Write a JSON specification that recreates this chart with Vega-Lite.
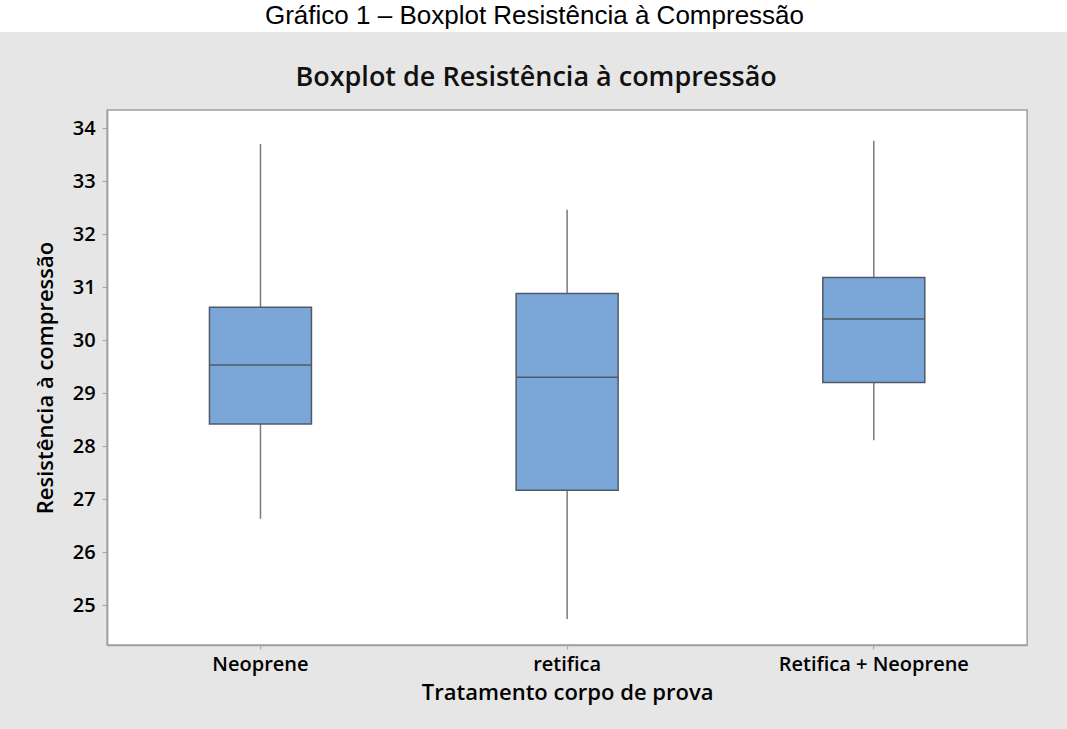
{
  "$schema": "https://vega.github.io/schema/vega-lite/v6.json",
  "background": "#e6e6e6",
  "padding": {"left": 0, "right": 0, "top": 0, "bottom": 26},
  "spacing": 31,
  "center": true,
  "config": {"font": "Open Sans"},
  "vconcat": [
    {
      "width": 1135,
      "height": 32,
      "view": {"fill": "white", "stroke": null},
      "data": {"values": [{"t": "Gráfico 1 – Boxplot Resistência à Compressão"}]},
      "mark": {"type": "text", "font": "Liberation Sans", "fontSize": 26, "color": "black", "dx": -33},
      "encoding": {"text": {"field": "t"}}
    },
    {
      "width": 920,
      "height": 535,
      "view": {"fill": "white", "stroke": "#a0a0a0", "strokeWidth": 1.5},
      "title": {"text": "Boxplot de Resistência à compressão", "font": "Open Sans", "fontSize": 27, "fontWeight": 600, "color": "#111111", "anchor": "middle", "frame": "group", "dx": -31, "offset": 18},
      "data": {"values": [
        {"trat": "Neoprene", "lower": 26.63, "q1": 28.42, "median": 29.53, "q3": 30.62, "upper": 33.70},
        {"trat": "retifica", "lower": 24.74, "q1": 27.17, "median": 29.30, "q3": 30.88, "upper": 32.46},
        {"trat": "Retifica + Neoprene", "lower": 28.11, "q1": 29.20, "median": 30.40, "q3": 31.18, "upper": 33.76}
      ]},
      "encoding": {
        "x": {"field": "trat", "type": "nominal", "sort": null,
          "scale": {"paddingInner": 0, "paddingOuter": 0},
          "axis": {"title": "Tratamento corpo de prova", "labelAngle": 0, "labelFontSize": 20, "labelFontWeight": 600, "labelColor": "black", "labelPadding": 5, "labelLimit": 400,
            "tickSize": 4, "tickColor": "#a0a0a0", "domainColor": "#a0a0a0", "domainWidth": 1.5,
            "titleFontSize": 22, "titleFontWeight": 600, "titleColor": "black", "titlePadding": 8}}
      },
      "layer": [
        {
          "mark": {"type": "rule", "color": "#7a7a7a", "strokeWidth": 1.5},
          "encoding": {
            "y": {"field": "lower", "type": "quantitative",
              "scale": {"domain": [24.25, 34.34], "nice": false, "zero": false},
              "axis": {"title": "Resistência à compressão", "values": [25, 26, 27, 28, 29, 30, 31, 32, 33, 34], "grid": false,
                "labelFontSize": 20, "labelFontWeight": 600, "labelColor": "black", "labelPadding": 7,
                "tickSize": 5, "tickColor": "#a0a0a0", "domainColor": "#a0a0a0", "domainWidth": 1.5,
                "titleFontSize": 22, "titleFontWeight": 600, "titleColor": "black", "titlePadding": 15}},
            "y2": {"field": "upper"}
          }
        },
        {
          "mark": {"type": "bar", "size": 102, "fill": "#7ba6d8", "stroke": "#4f5a66", "strokeWidth": 1.5},
          "encoding": {
            "y": {"field": "q1", "type": "quantitative"},
            "y2": {"field": "q3"}
          }
        },
        {
          "mark": {"type": "tick", "size": 102, "thickness": 1.5, "color": "#4f5a66", "opacity": 1},
          "encoding": {
            "y": {"field": "median", "type": "quantitative"}
          }
        }
      ]
    }
  ]
}
